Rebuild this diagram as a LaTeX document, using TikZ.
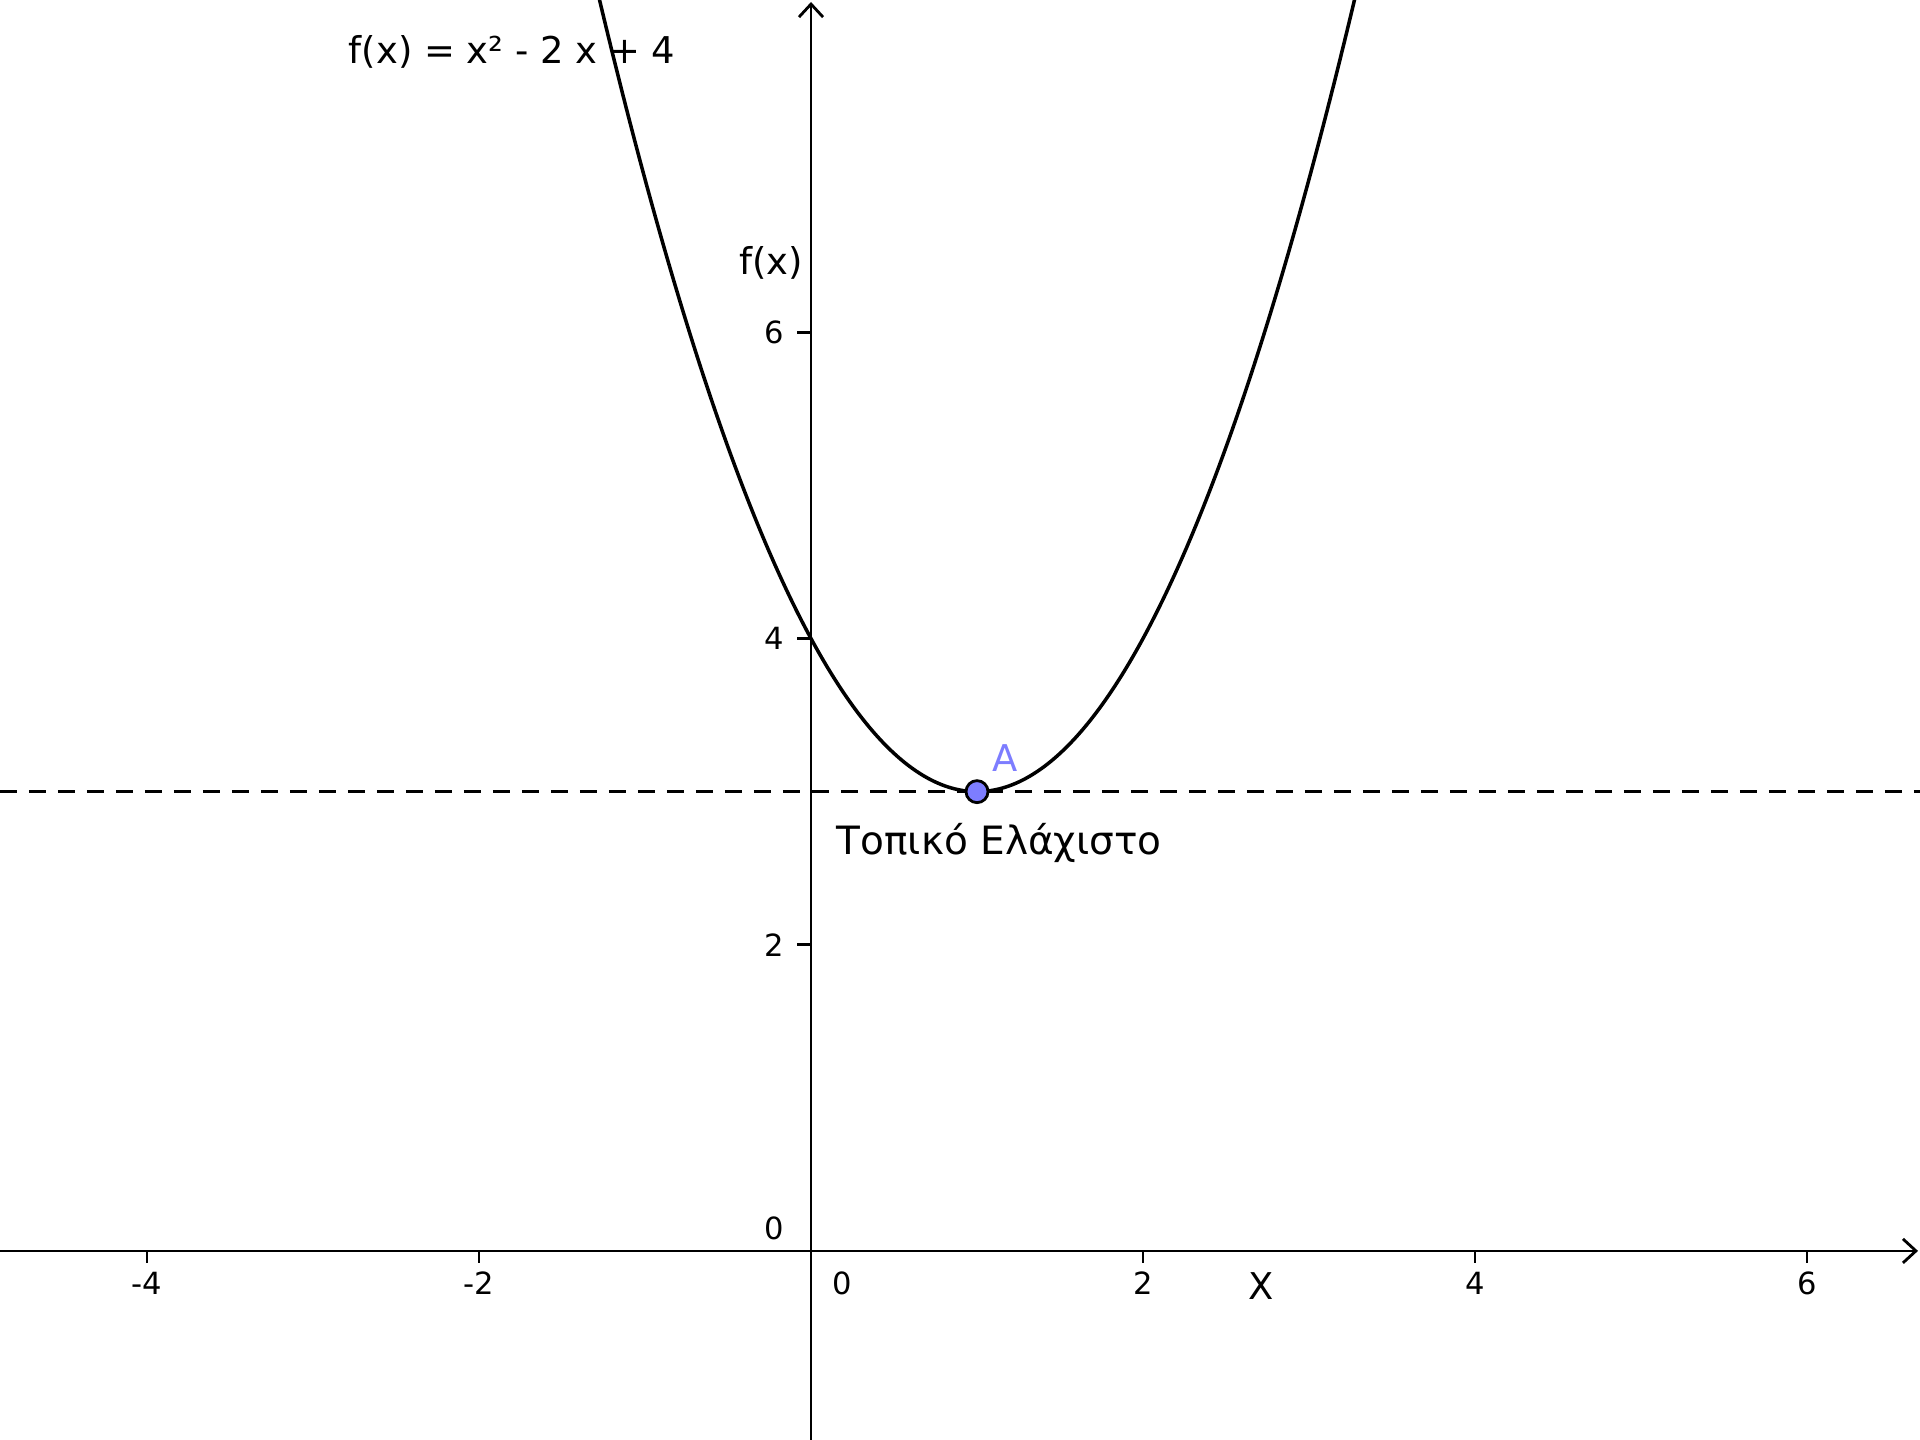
\documentclass[tikz,border=0pt]{standalone}
\usepackage{fontspec}
\setmainfont{DejaVu Sans}
\usetikzlibrary{arrows.meta}
\definecolor{ptblue}{RGB}{125,125,255}

\begin{document}
\begin{tikzpicture}[x=1.66cm, y=1.531cm,
  lbl/.style={inner sep=0pt, font=\fontsize{10.5}{12}\selectfont},
  tlbl/.style={inner sep=0pt, font=\fontsize{8.7}{10}\selectfont},
  axe/.style={line width=0.8pt, -{Straight Barb[length=1.3mm, width=2.4mm]}},
  tck/.style={line width=0.8pt}]

\useasboundingbox (-4.886,-1.2345) rectangle (6.681,8.171);

%%%%%% Axes
\draw[axe] (-4.886,0)--(6.669,0); \draw[axe] (0,-1.2345)--(0,8.158);

\draw[tck] (-4,0)--(-4,-.078); \draw[tck] (-2,0)--(-2,-.078); \draw[tck] (2,0)--(2,-.078); \draw[tck] (4,0)--(4,-.078); \draw[tck] (6,0)--(6,-.078);
\draw[tck] (0,2)--(-.084,2); \draw[tck] (0,4)--(-.084,4); \draw[tck] (0,6)--(-.084,6);

\node[tlbl] (xm4) at (-4,-.209) {-4}; \node[tlbl] (xm2) at (-2,-.209) {-2}; \node[tlbl] (x0) at (.19,-.209) {0};
\node[tlbl] (x2) at (2,-.209) {2}; \node[tlbl] (x4) at (4,-.209) {4}; \node[tlbl] (x6) at (6,-.209) {6};

\node[tlbl, anchor=east] (y0) at (-.157,.15) {0}; \node[tlbl, anchor=east] (y2) at (-.157,2) {2};
\node[tlbl, anchor=east] (y4) at (-.157,4) {4}; \node[tlbl, anchor=east] (y6) at (-.157,6) {6};

\node[lbl] (xlab) at (2.711,-.229) {X}; \node[lbl] (ylab) at (-.241,6.453) {f(x)};


%%%%%% Minimum line and curve
\draw[line width=0.8pt, dash pattern=on 0.17cm off 0.12cm] (-4.886,3)--(6.681,3);

\begin{scope}
\clip (-4.886,-1.2345) rectangle (6.681,8.171);
\draw[line width=1pt] plot[domain=-1.3:3.3, samples=120, smooth] (\x,{\x*\x-2*\x+4});
\end{scope}

\node[circle, draw, line width=0.8pt, fill=ptblue, minimum size=0.22cm, inner sep=0pt] (A) at (1,3) {};
\node[lbl, text=ptblue] (Alab) at (1.169,3.22) {A};

\node[lbl, anchor=west, font=\fontsize{11.1}{13}\selectfont] (minlab) at (.151,2.668) {Τοπικό Ελάχιστο};

\node[lbl] (flab) at (-1.801,7.831) {f(x) = x² - 2 x + 4};

\end{tikzpicture}
\end{document}
